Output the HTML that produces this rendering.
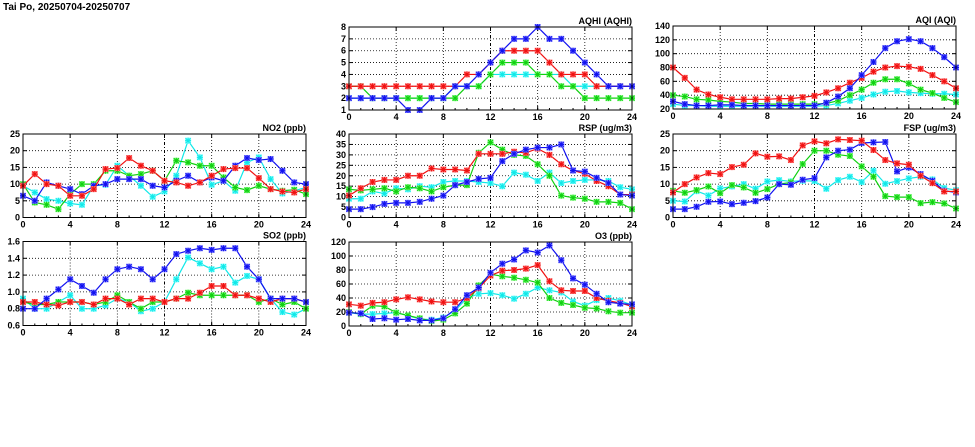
<!DOCTYPE html>
<html><head><meta charset="utf-8">
<style>
html,body{margin:0;padding:0;background:#fff;}
svg{display:block;}
text{font-family:"Liberation Sans",sans-serif;font-size:9px;font-weight:bold;fill:#000;}
</style></head>
<body>
<svg id="s" width="975" height="447" xmlns="http://www.w3.org/2000/svg">
<text x="3" y="10" style="font-size:10px">Tai Po, 20250704-20250707</text>
</svg>
<script>
const C={b:'#1010f0',r:'#f01010',g:'#10d010',c:'#10e8e8'};
const L={b:'#8080ff',r:'#ff8080',g:'#80ff80',c:'#80ffff'};
const panels=[
{t:'AQHI (AQHI)',x0:349,x1:632,y0:27,y1:110,min:1,max:8,ticks:['1','2','3','4','5','6','7','8'],tv:[1,2,3,4,5,6,7,8],
d:{c:[2,2,2,2,2,2,2,2,2,3,3,3,4,4,4,4,4,4,4,3,3,3,3,3,3],
g:[3,3,2,2,2,2,2,2,2,2,3,3,4,5,5,5,4,4,3,3,2,2,2,2,2],
r:[3,3,3,3,3,3,3,3,3,3,4,4,5,6,6,6,6,5,4,4,4,3,3,3,3],
b:[2,2,2,2,2,1,1,2,2,3,3,4,5,6,7,7,8,7,7,6,5,4,3,3,3]}},
{t:'AQI (AQI)',x0:673,x1:956,y0:26,y1:109,min:20,max:140,ticks:['20','40','60','80','100','120','140'],tv:[20,40,60,80,100,120,140],
d:{c:[27,25,25,24,24,24,24,24,24,24,24,24,24,25,28,32,36,41,45,46,44,43,42,42,41],
g:[40,38,34,33,31,30,28,28,27,27,27,27,27,28,32,40,48,58,63,63,57,48,43,36,30],
r:[80,65,48,41,37,34,34,34,34,35,35,37,39,44,50,58,65,74,80,82,81,78,69,60,50],
b:[31,27,25,25,26,26,25,25,25,25,25,25,25,29,38,50,69,88,108,118,121,118,108,95,80]}},
{t:'NO2 (ppb)',x0:23,x1:306,y0:134,y1:217.5,min:0,max:25,ticks:['0','5','10','15','20','25'],tv:[0,5,10,15,20,25],
d:{c:[9.5,7.5,5.5,5,4.2,3.8,9.5,9.8,15.5,12.5,9.5,6.2,7.8,12.5,23,18,9.8,11,8,16.5,18,11.5,7.2,8,9],
g:[10,4.5,3.8,2.5,7,10,10,14,14,12.5,13,14,11,17,16.5,15.5,15.5,12,9,8.2,9.5,8.5,8,8.3,7],
b:[6.5,5,10.5,9.5,8.5,7,9.5,10,11.5,11.5,11.5,9.5,9,11,12.5,10.5,12,11,15.5,17.8,17.2,17.5,14,10.5,10],
r:[9.5,13,10,9.5,6.5,6.5,8.5,14.5,14.8,17.8,15.5,14,11,10.5,9.5,10.5,12.5,14.5,14.8,14.8,11.8,8.5,7.8,7.5,8.5]}},
{t:'RSP (ug/m3)',x0:349,x1:632,y0:134,y1:217.5,min:0,max:40,ticks:['0','5','10','15','20','25','30','35','40'],tv:[0,5,10,15,20,25,30,35,40],
d:{c:[9,9,12.5,11.5,14,13.5,15,14.5,17,17.5,17.5,17,16.5,15,21.5,20.5,17.5,21.5,16.5,17.5,18,18,17.5,14.5,13.5],
g:[13.5,13,13.5,14,12.5,14.5,14,12.5,14.5,15.5,15.5,31,36,32.5,30,29.5,25.5,20,10.5,9.5,9,7.5,7.5,7,4],
r:[10.5,14,17,18,18,20,20,23.5,23,23,22.5,30.5,30.5,30.5,31.5,31,33,30,25.5,22.5,21,17.5,15,11,11],
b:[4,4,5,6.5,7,7,7.5,9,10.5,15.5,17,18.5,19,27,30.5,32.5,33.5,33.5,35,22.5,22,19,16.5,11,10.5]}},
{t:'FSP (ug/m3)',x0:673,x1:956,y0:134,y1:217.5,min:0,max:25,ticks:['0','5','10','15','20','25'],tv:[0,5,10,15,20,25],
d:{c:[5,4.8,7.9,6.6,8.7,9.3,10,8.6,10.8,11.2,10.8,11,10.9,8.6,11.2,12.2,10.6,14,10.1,10.9,11.7,12.2,11.4,8.8,8.2],
g:[8,7.4,8.2,9.3,7.3,9.7,9,7.4,8.5,10,10.5,16,20,20,18.8,18.4,15.3,12.2,6.4,6.1,6.1,4.3,4.6,4.2,2.7],
b:[2.5,2.5,3.2,4.7,4.8,4,4.4,4.9,6,10,9.8,11.3,11.8,18,20,20.3,22.3,22.5,22.6,13.8,15,13,11,8,7.5],
r:[7.5,10,12,13.3,13,15.1,15.8,19.2,18.2,18.3,17.2,21.6,22.8,22.2,23.4,23.2,23,20.2,17.2,16.2,15.8,12.5,10.3,7.8,7.8]}},
{t:'SO2 (ppb)',x0:23,x1:306,y0:241.5,y1:325.5,min:0.6,max:1.6,ticks:['0.6','0.8','1.0','1.2','1.4','1.6'],tv:[0.6,0.8,1.0,1.2,1.4,1.6],
d:{c:[.92,.8,.8,.88,.96,.8,.8,.84,.92,.88,.77,.8,.88,1.15,1.41,1.34,1.27,1.3,1.11,1.19,1.15,.92,.76,.73,.8],
g:[.88,.85,.85,.88,.88,.88,.85,.88,.96,.88,.8,.88,.88,.92,.99,.96,.96,.96,.96,.96,.88,.92,.85,.88,.8],
r:[.88,.88,.85,.84,.88,.88,.85,.92,.92,.85,.92,.92,.88,.92,.92,.99,1.07,1.07,.96,.96,.92,.88,.92,.92,.88],
b:[.8,.8,.92,1.03,1.15,1.07,.99,1.15,1.27,1.3,1.27,1.15,1.27,1.45,1.49,1.52,1.5,1.52,1.52,1.3,1.15,.92,.92,.92,.88]}},
{t:'O3 (ppb)',x0:349,x1:632,y0:242,y1:326,min:0,max:120,ticks:['0','20','40','60','80','100','120'],tv:[0,20,40,60,80,100,120],
d:{c:[19,17,17,18,19,15,10,9,12,22,40,46,47,44,39,46,55,51,48,35,29,37,40,36,30],
g:[20,17,29,28,19,15,11,7,9,18,32,58,74,71,69,66,62,40,33,30,26,25,21,19,19],
r:[31,29,33,34,38,41,38,35,34,34,40,54,72,79,80,82,87,64,51,50,50,40,36,33,28],
b:[19,18,10,11,9,10,8,8,11,24,44,55,76,89,95,108,105,115,94,68,59,46,34,32,31]}}
];
const xl=['0','4','8','12','16','20','24'];
let h='';
for(const p of panels){
  const X=i=>p.x0+(p.x1-p.x0)*i/24, Y=v=>p.y1-(p.y1-p.y0)*(v-p.min)/(p.max-p.min);
  p.tv.forEach((v,k)=>{const y=Y(v);
    if(k>0&&k<p.tv.length-1)h+=`<line x1="${p.x0}" x2="${p.x1}" y1="${y}" y2="${y}" stroke="#000" stroke-width="0.8" stroke-dasharray="1,2"/>`;
    h+=`<line x1="${p.x0}" x2="${p.x0+4}" y1="${y}" y2="${y}" stroke="#000"/><line x1="${p.x1-4}" x2="${p.x1}" y1="${y}" y2="${y}" stroke="#000"/>`;
    h+=`<text x="${p.x0-3}" y="${y+3}" text-anchor="end">${p.ticks[k]}</text>`;});
  for(let k=0;k<7;k++){const x=X(k*4);
    if(k>0&&k<6)h+=`<line x1="${x}" x2="${x}" y1="${p.y0}" y2="${p.y1}" stroke="#000" stroke-width="${k==3?1:0.8}" stroke-dasharray="${k==3?'3,2,1,2':'1,2'}"/>`;
    h+=`<line x1="${x}" x2="${x}" y1="${p.y1}" y2="${p.y1-4}" stroke="#000"/><line x1="${x}" x2="${x}" y1="${p.y0}" y2="${p.y0+4}" stroke="#000"/>`;
    h+=`<text x="${x}" y="${p.y1+10}" text-anchor="middle">${xl[k]}</text>`;}
  for(let i=0;i<=24;i++){const x=X(i);h+=`<line x1="${x}" x2="${x}" y1="${p.y1}" y2="${p.y1-2}" stroke="#000"/>`;}
  for(const s of Object.keys(p.d)){const a=p.d[s];
    h+=`<polyline fill="none" stroke="${C[s]}" stroke-width="1.2" points="${a.map((v,i)=>X(i)+','+Y(v)).join(' ')}"/>`;
    a.forEach((v,i)=>{const x=X(i),y=Y(v);
      h+=`<rect x="${x-3}" y="${y-3}" width="6" height="6" fill="${L[s]}"/><path d="M${x-2.5} ${y-2.5}L${x+2.5} ${y+2.5}M${x+2.5} ${y-2.5}L${x-2.5} ${y+2.5}M${x} ${y-3}V${y+3}M${x-3} ${y}H${x+3}" stroke="${C[s]}" stroke-width="1"/>`;});}
  h+=`<rect x="${p.x0}" y="${p.y0}" width="${p.x1-p.x0}" height="${p.y1-p.y0}" fill="none" stroke="#000" stroke-width="1"/>`;
  h+=`<text x="${p.x1}" y="${p.y0-3}" text-anchor="end">${p.t}</text>`;
}
document.getElementById('s').insertAdjacentHTML('beforeend',h);
</script>
</body></html>
